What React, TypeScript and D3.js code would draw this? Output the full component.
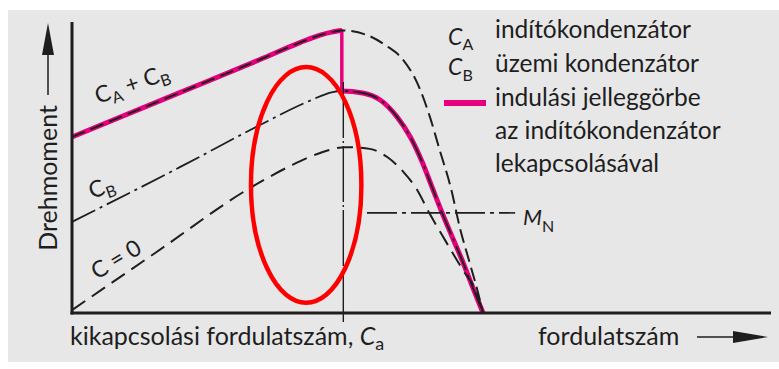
import React from "react";
import * as d3 from "d3";

// Speed (x) and torque (y) in percent of the axis extent.
const curveAB: [number, number][] = [
  [0, 60.5], [15.5, 75.8], [26.9, 87.1], [32.6, 92.9], [35.5, 95.5], [37.3, 96.6], [38.6, 97.1],
  [42.2, 95.5], [44.8, 92.1], [47.4, 86.9], [49.4, 79.0], [51.2, 67.4], [52.6, 56.0],
  [54.2, 43.0], [55.5, 29.2], [56.9, 17.2], [58.1, 6.9], [58.8, 0],
];
const curveB: [number, number][] = [
  [0, 31.3], [15.5, 50.2], [26.9, 64.6], [33.6, 72.5], [37.3, 75.9], [38.6, 76.3],
  [41.6, 75.6], [44.1, 73.2], [46.5, 67.4], [48.4, 60.5], [50.1, 51.9], [51.5, 43.3],
  [52.9, 34.7], [54.4, 26.1], [55.8, 18.2], [57.2, 9.6], [58.8, 0],
];
const curveNone: [number, number][] = [
  [0, 1.0], [12, 20.8], [25.5, 43.0], [31.2, 50.5], [35.5, 55.0], [39.1, 57.0],
  [42.6, 56.4], [45.1, 53.6], [47.4, 48.5], [49.2, 43.0], [51.2, 34.0], [53.6, 24.1],
  [55.9, 14.8], [57.9, 6.9], [58.8, 0],
];
const cutoffSpeed = 38.6;
const ratedTorque = 34.4;
const ratedSpan: [number, number] = [42.2, 63.4];
const highlight = { cx: 33.5, cy: 44, rx: 7.9, ry: 40.5 };

const legendLines = [
  "indítókondenzátor",
  "üzemi kondenzátor",
  "indulási jelleggörbe",
  "az indítókondenzátor",
  "lekapcsolásával",
];

const INK = "#1e1e1e";
const PINK = "#e6007e";
const FONT = "Lato, sans-serif";

export default function App() {
  const x = d3.scaleLinear().domain([0, 100]).range([72, 771]);
  const y = d3.scaleLinear().domain([0, 100]).range([313, 22]);
  const line = d3
    .line<[number, number]>()
    .x((d) => x(d[0]))
    .y((d) => y(d[1]))
    .curve(d3.curveMonotoneX);

  const abPeak = curveAB.find((d) => d[0] === cutoffSpeed)!;
  const bPeak = curveB.find((d) => d[0] === cutoffSpeed)!;
  const xc = x(cutoffSpeed);

  const legendY = [38, 72, 106, 139, 172];

  return (
    <svg
      width={779}
      height={369}
      style={{ position: "absolute", left: 0, top: 0, fontFamily: FONT }}
    >
      <defs>
        <clipPath id="before-cutoff">
          <rect x={0} y={0} width={xc} height={369} />
        </clipPath>
        <clipPath id="after-cutoff">
          <rect x={xc} y={0} width={779 - xc} height={369} />
        </clipPath>
      </defs>
      <rect x={0} y={0} width={779} height={369} fill="#fff" />
      <rect x={8} y={10} width={771} height={352} fill="#e7e7e7" />

      {/* starting characteristic (pink) */}
      <path d={line(curveAB) || ""} fill="none" stroke={PINK} strokeWidth={5}
        clipPath="url(#before-cutoff)" />
      <line x1={xc} x2={xc} y1={y(abPeak[1]) - 1} y2={y(bPeak[1])}
        stroke={PINK} strokeWidth={3.5} />
      <path d={line(curveB) || ""} fill="none" stroke={PINK} strokeWidth={5}
        clipPath="url(#after-cutoff)" />

      {/* cut-off speed marker */}
      <line x1={xc + 1.5} x2={xc + 1.5} y1={y(79.4)} y2={y(-3.1)}
        stroke={INK} strokeWidth={1.4} strokeDasharray="56,3,2,3" />

      {/* torque curves */}
      <path d={line(curveAB) || ""} fill="none" stroke={INK} strokeWidth={2} strokeDasharray="14,6" />
      <path d={line(curveB) || ""} fill="none" stroke={INK} strokeWidth={1.8} strokeDasharray="26,5,3,5" />
      <path d={line(curveNone) || ""} fill="none" stroke={INK} strokeWidth={2} strokeDasharray="16,8" />

      {/* rated torque */}
      <line x1={x(ratedSpan[0])} x2={x(ratedSpan[1])} y1={y(ratedTorque)} y2={y(ratedTorque)}
        stroke={INK} strokeWidth={1.6} strokeDasharray="30,5,4,5" />
      <text x={523} y={225} fontSize={22} fill={INK}>
        <tspan fontStyle="italic">M</tspan>
        <tspan fontSize={16} dy={7}>N</tspan>
      </text>

      {/* axes */}
      <line x1={x(0)} x2={x(0)} y1={y(100)} y2={y(0) + 1.5} stroke={INK} strokeWidth={3} />
      <line x1={x(0) - 1.5} x2={x(100)} y1={y(0)} y2={y(0)} stroke={INK} strokeWidth={3} />

      {/* highlight */}
      <ellipse cx={x(highlight.cx)} cy={y(highlight.cy)}
        rx={x(highlight.cx + highlight.rx) - x(highlight.cx)}
        ry={y(highlight.cy) - y(highlight.cy + highlight.ry)}
        fill="none" stroke="#ff0000" strokeWidth={4.5} />

      {/* curve labels */}
      <text transform="translate(98,104) rotate(-19)" fontSize={23} fill={INK}>
        C<tspan fontSize={16} dy={5}>A</tspan>
        <tspan dy={-5}> + C</tspan>
        <tspan fontSize={16} dy={5}>B</tspan>
      </text>
      <text transform="translate(92,199) rotate(-20)" fontSize={23} fill={INK}>
        C<tspan fontSize={16} dy={5}>B</tspan>
      </text>
      <text transform="translate(97,280) rotate(-31)" fontSize={23} fill={INK}>
        C = 0
      </text>

      {/* y axis title */}
      <line x1={48} x2={48} y1={95} y2={50} stroke={INK} strokeWidth={1.5} />
      <path d="M48,23 L42,55 L54,55 Z" fill={INK} />
      <text transform="translate(57,178) rotate(-90)" textAnchor="middle" fontSize={25} fill={INK}>
        Drehmoment
      </text>

      {/* x axis titles */}
      <text x={70} y={345} fontSize={25} fill={INK}>
        kikapcsolási fordulatszám, <tspan fontStyle="italic">C</tspan>
        <tspan fontSize={18} dy={5}>a</tspan>
      </text>
      <text x={538} y={345} fontSize={25} fill={INK}>fordulatszám</text>
      <line x1={697} x2={740} y1={337} y2={337} stroke={INK} strokeWidth={1.5} />
      <path d="M768,337 L733,331 L733,343 Z" fill={INK} />

      {/* legend */}
      <text x={448} y={45} fontSize={23} fill={INK}>
        <tspan fontStyle="italic">C</tspan>
        <tspan fontSize={16} dy={5}>A</tspan>
      </text>
      <text x={448} y={75} fontSize={23} fill={INK}>
        <tspan fontStyle="italic">C</tspan>
        <tspan fontSize={16} dy={6}>B</tspan>
      </text>
      <rect x={444} y={100} width={42} height={6} fill={PINK} />
      {legendLines.map((t, i) => (
        <text key={i} x={495} y={legendY[i]} fontSize={24.5} fill={INK}>{t}</text>
      ))}
    </svg>
  );
}
